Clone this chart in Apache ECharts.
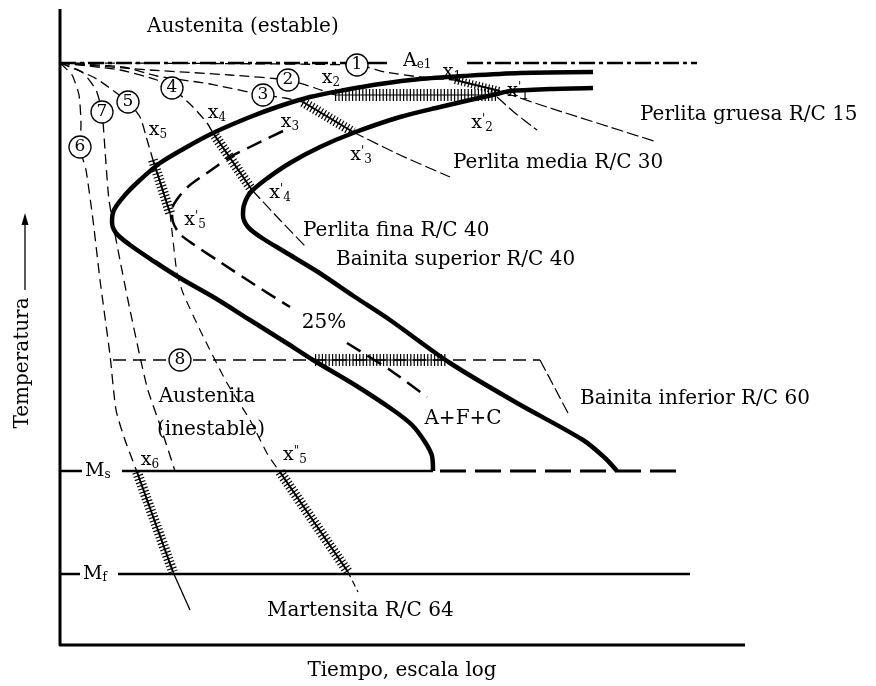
<!DOCTYPE html>
<html>
<head>
<meta charset="utf-8">
<script src="https://cdn.jsdelivr.net/npm/echarts@6/dist/echarts.min.js"></script>
<style>
  html, body { margin: 0; padding: 0; background: #fff; }
  #chart { width: 876px; height: 686px; }
</style>
</head>
<body>
<div id="chart"></div>
<script>
// Schematic TTT diagram: time (log scale, arbitrary units) vs temperature (arbitrary units).

// Axis frame and reference temperatures
const axisFrame = [[0, 636], [0, 0], [685, 0]];
const tempAe1 = 582;
const tempMs = 174;
const tempMf = 71;

// Transformation start curve (0 %)
const startCurve = [
  [533, 573], [460, 572], [403, 569], [360, 566], [320, 561], [285, 555], [250, 548],
  [220, 539], [190, 528], [153, 512], [125, 497], [100, 482], [80, 465], [65, 450],
  [54, 435], [52, 423], [56, 412], [70, 400], [95, 383], [120, 367], [155, 347],
  [190, 325], [225, 303], [253, 285], [295, 260], [333, 235], [352, 220], [365, 203],
  [372, 189], [373, 174]
];
// Transformation finish curve (100 %)
const finishCurve = [
  [533, 557], [490, 556], [450, 554], [437, 551], [410, 545], [380, 538], [340, 528],
  [293, 512], [260, 498], [230, 482], [205, 465], [190, 452], [184, 440], [183, 430],
  [188, 418], [202, 407], [225, 393], [258, 373], [295, 348], [330, 325], [390, 282],
  [457, 242], [523, 205], [545, 187], [557, 174]
];
// 25 % transformed curve
const partialUpper = [
  [223, 514], [190, 498], [170, 488], [147, 472], [130, 460], [118, 447], [112, 435],
  [113, 423], [120, 411], [133, 401], [160, 383], [195, 360], [230, 338]
];
const partialLower = [[287, 302], [330, 275], [367, 248]];

// Cooling paths 1..8
const cool1 = [[0, 582], [297, 580], [325, 573], [360, 568], [395, 565]];
const cool1Hatch = [[395, 565], [440, 554]];
const cool1Tail = [[445, 552], [490, 537], [597, 503]];

const cool2 = [[0, 582], [90, 575], [170, 570], [228, 565], [255, 557], [275, 550]];
const cool2Hatch = [[275, 550], [437, 550]];
const cool2Tail = [[437, 548], [455, 532], [477, 515]];

const cool3 = [[0, 582], [63, 578], [97, 569], [150, 561], [203, 550], [225, 547], [243, 543]];
const cool3Hatch = [[243, 543], [293, 513]];
const cool3Tail = [[293, 513], [340, 490], [390, 468]];

const cool4 = [[0, 582], [60, 575], [97, 565], [112, 557], [133, 538], [147, 522], [153, 512]];
const cool4Hatch = [[153, 512], [192, 455]];
const cool4Tail = [[192, 455], [220, 425], [247, 397]];

const cool5 = [[0, 582], [35, 567], [68, 543], [80, 528], [88, 502], [93, 485]];
const cool5Hatch = [[93, 485], [110, 432]];
const cool5Mid = [[110, 432], [113, 405], [117, 372], [123, 352], [140, 315], [167, 262],
  [190, 225], [208, 190], [220, 173]];
const cool5Mart = [[220, 173], [288, 73]];
const cool5Tail = [[288, 73], [298, 53]];

const cool6 = [[0, 582], [12, 570], [19, 550], [21, 520], [20, 498], [26, 475], [33, 425],
  [40, 365], [50, 290], [56, 235], [65, 205], [77, 173]];
const cool6Mart = [[77, 173], [113, 73]];
const cool6Tail = [[113, 73], [130, 35]];

const cool7 = [[0, 582], [22, 573], [36, 555], [42, 533], [45, 495], [49, 445], [58, 395],
  [70, 335], [87, 258], [100, 220], [115, 174]];

const cool8 = [[53, 285], [480, 285]];
const cool8Hatch = [[255, 285], [387, 285]];
const cool8Tail = [[480, 285], [508, 232]];

// Circled path numbers
const pathMarks = [
  ['1', 297, 580], ['2', 228, 565], ['3', 203, 550], ['4', 112, 557],
  ['5', 68, 543], ['6', 20, 498], ['7', 42, 533], ['8', 120, 285]
];

// Point labels x / x' / x''
const pointLabels = [
  [392, 573, '{x|x}{s|1}'], [458, 554, "{x|x}{p|'}{s|1}"],
  [271, 567, '{x|x}{s|2}'], [422, 522, "{x|x}{p|'}{s|2}"],
  [230, 523, '{x|x}{s|3}'], [301, 490, "{x|x}{p|'}{s|3}"],
  [157, 532, '{x|x}{s|4}'], [220, 452, "{x|x}{p|'}{s|4}"],
  [98, 515, '{x|x}{s|5}'], [135, 425, "{x|x}{p|'}{s|5}"], [235, 190, '{x|x}{p|"}{s|5}'],
  [90, 185, '{x|x}{s|6}']
];

// Region / product notes (left-aligned)
const notesLeft = [
  [87, 618, 'Austenita (estable)'],
  [343, 584, '{a|A}{e|e1}'],
  [580, 530, 'Perlita gruesa R/C 15'],
  [393, 482, 'Perlita media R/C 30'],
  [243, 414, 'Perlita fina R/C 40'],
  [276, 385, 'Bainita superior R/C 40'],
  [520, 246, 'Bainita inferior R/C 60'],
  [207, 34, 'Martensita R/C 64'],
  [25, 174, '{a|M}{e|s}'],
  [23, 71, '{a|M}{e|f}']
];
// Centered notes
const notesCenter = [
  [264, 322, '25%'],
  [403, 226, 'A+F+C'],
  [147, 248, 'Austenita'],
  [151, 215, '(inestable)']
];
const timeTitle = [[342, -26, 'Tiempo, escala log']];
const tempTitle = [[-37, 282, 'Temperatura']];
const tempArrow = [[-35, 355], [-35, 426]];

const FONT = 'DejaVu Serif';
const INK = '#000';

function path(data, width, dash, smooth) {
  return {
    type: 'line', data: data, symbol: 'none', silent: true, animation: false,
    smooth: smooth === undefined ? 0.2 : smooth,
    lineStyle: { color: INK, width: width, type: dash, cap: 'butt', join: 'round' },
    z: 2
  };
}
function hatch(data, width, withCore) {
  const list = [{
    type: 'line', data: data, symbol: 'none', silent: true, animation: false,
    lineStyle: { color: INK, width: width, type: [1.2, 2.2], cap: 'butt' }, z: 3
  }];
  if (withCore) list.push(path(data, 2, 'solid', 0));
  return list;
}
function notes(data, align, rotate) {
  return {
    type: 'scatter', symbolSize: 0, silent: true, animation: false, z: 6,
    itemStyle: { opacity: 1 },
    data: data.map(d => ({ value: [d[0], d[1]], name: d[2] })),
    label: {
      show: true, position: [0, 0], align: align, verticalAlign: 'middle',
      rotate: rotate || 0,
      formatter: p => p.name, color: INK, fontFamily: FONT, fontSize: 20,
      rich: {
        x: { fontSize: 19, fontFamily: FONT, color: INK },
        s: { fontSize: 12, fontFamily: FONT, color: INK, padding: [10, 0, 0, 0] },
        p: { fontSize: 12, fontFamily: FONT, color: INK, padding: [0, 0, 6, 0] },
        a: { fontSize: 19, fontFamily: FONT, color: INK },
        e: { fontSize: 12, fontFamily: FONT, color: INK, padding: [8, 0, 0, 0] }
      }
    }
  };
}

const series = [
  // axes and reference lines
  path(axisFrame, 3, 'solid', 0),
  path([[0, tempAe1], [287, tempAe1]], 2.5, [16, 4, 4, 4], 0),
  path([[307, tempAe1], [327, tempAe1]], 2.5, 'solid', 0),
  path([[407, tempAe1], [637, tempAe1]], 2.5, [16, 4, 4, 4], 0),
  path([[0, tempMs], [22, tempMs]], 2.5, 'solid', 0),
  path([[62, tempMs], [373, tempMs]], 2.5, 'solid', 0),
  path([[380, tempMs], [623, tempMs]], 3, [26, 9], 0),
  path([[0, tempMf], [20, tempMf]], 2.5, 'solid', 0),
  path([[58, tempMf], [630, tempMf]], 2.5, 'solid', 0),

  // cooling paths
  path(cool1, 1.3, [10, 5]), path(cool1Tail, 1.2, [12, 4]),
  path(cool2, 1.3, [10, 5]), path(cool2Tail, 1.2, [12, 4]),
  path(cool3, 1.3, [10, 5]), path(cool3Tail, 1.2, [12, 4]),
  path(cool4, 1.3, [10, 5]), path(cool4Tail, 1.2, [12, 4]),
  path(cool5, 1.3, [10, 5]), path(cool5Mid, 1.2, [9, 6]), path(cool5Tail, 1.2, [6, 4]),
  path(cool6, 1.3, [10, 6]), path(cool6Tail, 1.3, 'solid'),
  path(cool7, 1.3, [10, 6]),
  path(cool8, 1.3, [13, 7], 0), path(cool8Tail, 1.2, [12, 4], 0),

  // transformation curves
  path(startCurve, 4.5, 'solid', 0.3),
  path(finishCurve, 4.5, 'solid', 0.3),
  path(partialUpper, 2.5, [16, 8], 0.3),
  path(partialLower, 2.5, [16, 8], 0.2),

  // transformation intervals along the cooling paths
  ...hatch(cool1Hatch, 8, true),
  ...hatch(cool2Hatch, 12, false),
  path(cool2Hatch, 1.2, 'solid', 0),
  ...hatch(cool3Hatch, 10, true),
  ...hatch(cool4Hatch, 10, true),
  ...hatch(cool5Hatch, 10, true),
  ...hatch(cool8Hatch, 12, false),
  path(cool8Hatch, 1.2, 'solid', 0),
  ...hatch(cool5Mart, 10, true),
  ...hatch(cool6Mart, 10, true),

  // temperature arrow
  path(tempArrow, 1.3, 'solid', 0),
  {
    type: 'scatter', silent: true, animation: false, symbol: 'triangle', symbolSize: [7, 12],
    itemStyle: { color: INK, opacity: 1 }, data: [tempArrow[1]], z: 5
  },

  // circled path numbers
  {
    type: 'scatter', silent: true, animation: false, z: 5,
    symbol: 'circle', symbolSize: 22,
    itemStyle: { color: '#fff', borderColor: INK, borderWidth: 1.3, opacity: 1 },
    data: pathMarks.map(d => ({ value: [d[1], d[2]], name: d[0] })),
    label: {
      show: true, position: 'inside', formatter: p => p.name,
      color: INK, fontFamily: FONT, fontSize: 17
    }
  },

  // text
  notes(pointLabels, 'center'),
  notes(notesLeft, 'left'),
  notes(notesCenter, 'center'),
  notes(timeTitle, 'center'),
  notes(tempTitle, 'center', 90)
];

const chart = echarts.init(document.getElementById('chart'), null, { renderer: 'canvas' });
chart.setOption({
  backgroundColor: '#fff',
  animation: false,
  grid: { left: 0, right: 0, top: 0, bottom: 0 },
  xAxis: { type: 'value', min: -60, max: 816, show: false },
  yAxis: { type: 'value', min: -41, max: 645, show: false },
  series: series
});
</script>
</body>
</html>
